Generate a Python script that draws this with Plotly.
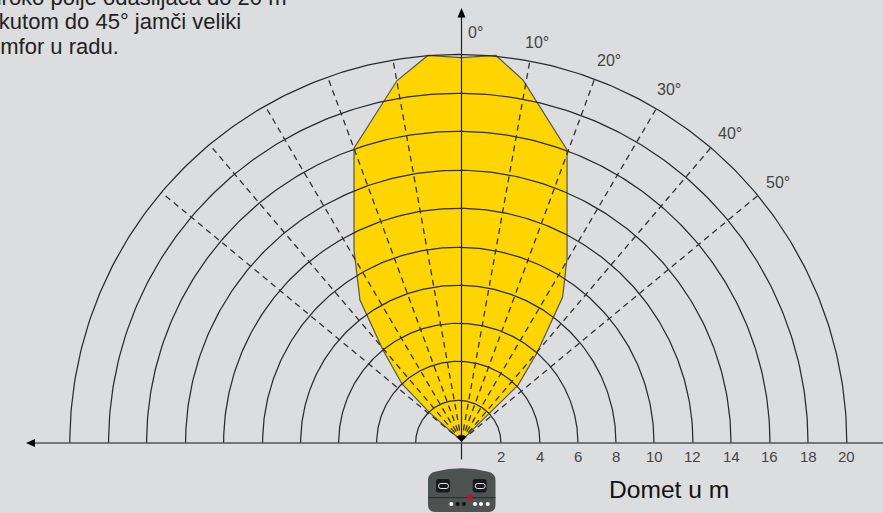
import numpy as np
import plotly.graph_objects as go

# Range in metres of each arc, measured from the arc centre
ARC_LABELS = ["2", "4", "6", "8", "10", "12", "14", "16", "18", "20"]
ARC_RADII = [2.21, 4.23, 6.20, 8.17, 10.14, 12.16, 14.13, 16.15, 18.12, 20.13]
ARC_CENTRE = -0.166

SPOKE_ANGLES = [10.2, 20.2, 30.4, 40.4, 50.4]
ANGLE_LABELS = ["0°", "10°", "20°", "30°", "40°", "50°"]
ANGLE_LABEL_X = [0.725, 3.9, 7.64, 10.75, 13.9, 16.4]
ANGLE_LABEL_Y = [21.25, 20.73, 19.8, 18.3, 16.06, 13.5]

# Coverage outline, metres across and ahead
COVER_X = [0, 1.48, 2.93, 3.91, 5.24, 5.47, 5.47, 3.19, 1.79, 0, -1.74, -3.34,
           -5.57, -5.57, -5.26, -4.07, -3.08, -1.63, 0]
COVER_Y = [0.12, 1.55, 3.0, 4.66, 7.56, 9.59, 15.18, 18.8, 20.08, 19.97, 20.08, 18.78,
           15.28, 10.0, 7.41, 4.82, 3.06, 1.55, 0.12]

TEXT_LINES = ["Široko polje odašiljača do 20 m", "pod kutom do 45° jamči veliki", "komfor u radu."]
TEXT_RIGHT = [287, 241, 119]
TEXT_BASE = [3.5, 28, 52]
UNIT_TEXT = "Domet u m"

W, H = 883, 513
OX, OY, S = 461.5, 443.0, 19.3
FONT = "Liberation Sans"
BG = "#dcdddf"


def dx(px):
    return (px - OX) / S


def dy(py):
    return (OY - py) / S


fig = go.Figure()
fig.add_trace(go.Scatter(x=COVER_X, y=COVER_Y, mode="lines", fill="toself", fillcolor="#ffd500",
                         line=dict(color="#555555", width=1.2), hoverinfo="skip"))

theta = np.linspace(0, np.pi, 241)
for r in ARC_RADII:
    fig.add_trace(go.Scatter(x=ARC_CENTRE + r * np.cos(theta), y=r * np.sin(theta), mode="lines",
                             line=dict(color="#2b2b2b", width=1.25), hoverinfo="skip"))

apex = 0.12
for a in SPOKE_ANGLES:
    for side in (1, -1):
        ux, uy = side * np.sin(np.radians(a)), np.cos(np.radians(a))
        # reach of the ray until it meets the outer arc
        b = -ARC_CENTRE * ux + apex * uy
        c = ARC_CENTRE ** 2 + apex ** 2 - ARC_RADII[-1] ** 2
        t = -b + np.sqrt(b * b - c)
        fig.add_trace(go.Scatter(x=[0, t * ux], y=[apex, apex + t * uy], mode="lines",
                                 line=dict(color="#333333", width=1.3, dash="6px,4.5px"),
                                 hoverinfo="skip"))

# Axes with arrow heads
fig.add_trace(go.Scatter(x=[0, 0], y=[dy(459.5), dy(17)], mode="lines",
                         line=dict(color="#222222", width=1.2), hoverinfo="skip"))
fig.add_trace(go.Scatter(x=[dx(35), dx(883)], y=[0, 0], mode="lines",
                         line=dict(color="#555555", width=1.6), hoverinfo="skip"))


def rect(x0, y0, x1, y1, fill, line=None, r=0, width=1):
    path = (f"M{dx(x0 + r)},{dy(y0)} L{dx(x1 - r)},{dy(y0)} Q{dx(x1)},{dy(y0)} {dx(x1)},{dy(y0 + r)} "
            f"L{dx(x1)},{dy(y1 - r)} Q{dx(x1)},{dy(y1)} {dx(x1 - r)},{dy(y1)} "
            f"L{dx(x0 + r)},{dy(y1)} Q{dx(x0)},{dy(y1)} {dx(x0)},{dy(y1 - r)} "
            f"L{dx(x0)},{dy(y0 + r)} Q{dx(x0)},{dy(y0)} {dx(x0 + r)},{dy(y0)} Z")
    return dict(type="path", path=path, fillcolor=fill, layer="above",
                line=dict(color=line or "rgba(0,0,0,0)", width=width))


def dot(cx, cy, r, fill):
    return dict(type="circle", x0=dx(cx - r), x1=dx(cx + r), y0=dy(cy + r), y1=dy(cy - r),
                fillcolor=fill, line=dict(width=0), layer="above")


def tri(pts):
    p = " L".join(f"{dx(x)},{dy(y)}" for x, y in pts)
    return dict(type="path", path=f"M{p} Z", fillcolor="#000000", line=dict(width=0), layer="above")


body = (f"M{dx(428)},{dy(480)} Q{dx(428)},{dy(473)} {dx(436)},{dy(471.5)} "
        f"Q{dx(461.5)},{dy(465)} {dx(487)},{dy(471.5)} Q{dx(495.5)},{dy(473)} {dx(495.5)},{dy(480)} "
        f"L{dx(495.5)},{dy(505)} Q{dx(495.5)},{dy(512)} {dx(488)},{dy(512)} "
        f"L{dx(436)},{dy(512)} Q{dx(428)},{dy(512)} {dx(428)},{dy(505)} Z")

shapes = [
    tri([(461.5, 8), (457.5, 17.5), (465.5, 17.5)]),
    tri([(26, 443), (35, 439), (35, 447)]),
    tri([(456.5, 436), (466.5, 436), (461.5, 441.5)]),
    dict(type="path", path=body, fillcolor="#4e5352", line=dict(width=0), layer="above"),
    dict(type="line", x0=dx(428), x1=dx(495.5), y0=dy(497.7), y1=dy(497.7),
         line=dict(color="#262a2a", width=1), layer="above"),
    rect(436, 479, 450, 492.5, "#17191a", r=3),
    rect(472.7, 479, 486.7, 492.5, "#17191a", r=3),
    rect(438.5, 483.5, 448.5, 488.5, "rgba(0,0,0,0)", "#e8e8e8", r=2.4, width=1),
    rect(475.2, 483.5, 485.2, 488.5, "rgba(0,0,0,0)", "#e8e8e8", r=2.4, width=1),
    dot(469.7, 497.7, 2.6, "#c8102e"),
    dot(451.3, 504, 2, "#ffffff"),
    dot(457.7, 504, 2, "#111111"),
    dot(464, 504, 2, "#111111"),
    dot(475, 504, 2, "#ffffff"),
    dot(481, 504, 2, "#ffffff"),
    dot(487.7, 504, 2, "#ffffff"),
]

annotations = []
for lab, r in zip(ARC_LABELS, ARC_RADII):
    annotations.append(dict(x=ARC_CENTRE + r, y=dy(456), text=lab, showarrow=False, xanchor="center",
                            yanchor="middle", font=dict(family=FONT, size=15, color="#444444")))
for lab, x, y in zip(ANGLE_LABELS, ANGLE_LABEL_X, ANGLE_LABEL_Y):
    annotations.append(dict(x=x, y=y, text=lab, showarrow=False, xanchor="center", yanchor="middle",
                            font=dict(family=FONT, size=16, color="#444444")))
for line, right, base in zip(TEXT_LINES, TEXT_RIGHT, TEXT_BASE):
    annotations.append(dict(x=dx(right), y=dy(base + 6.5), text=line, showarrow=False, xanchor="right",
                            yanchor="bottom", font=dict(family=FONT, size=22, color="#222222"),
                            borderpad=0, borderwidth=0))
annotations.append(dict(x=dx(668.5), y=dy(489), text=UNIT_TEXT, showarrow=False, xanchor="center",
                        yanchor="middle", font=dict(family=FONT, size=24.6, color="#111111")))

fig.update_layout(
    width=W, height=H, margin=dict(l=0, r=0, t=0, b=0), autosize=False, showlegend=False,
    paper_bgcolor=BG, plot_bgcolor=BG, shapes=shapes, annotations=annotations,
    xaxis=dict(range=[dx(0), dx(W)], visible=False, fixedrange=True),
    yaxis=dict(range=[dy(H), dy(0)], visible=False, fixedrange=True),
)
fig.write_html("out.html", config=dict(displayModeBar=False),
               post_script="document.body.style.margin='0';document.body.style.background='#dcdddf';")
